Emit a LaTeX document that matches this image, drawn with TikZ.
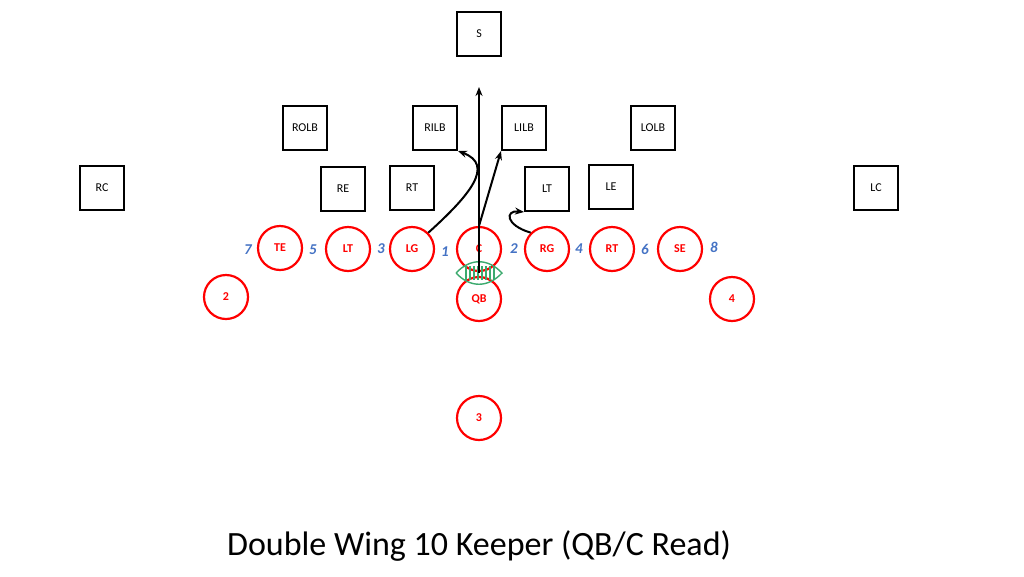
\documentclass[tikz,border=0pt]{standalone}
\usepackage{fontspec}
\setmainfont{Carlito}
\usetikzlibrary{arrows.meta,positioning}
\begin{document}
\begin{tikzpicture}[x=1pt,y=-1pt,
            defbox/.style={rectangle, draw, line width=2pt, minimum size=44pt, font=\fontsize{12}{14}\selectfont},
            player/.style={circle, draw=red, line width=2.2pt, minimum size=44pt, text=red, font=\bfseries\fontsize{12}{14}\selectfont},
            gap/.style={text={rgb,255:red,68;green,114;blue,196}, font=\bfseries\itshape\fontsize{15}{17}\selectfont},
            route/.style={-{Stealth[length=9pt,width=7pt]}, line width=2pt}
        ]
        \useasboundingbox (0,0) rectangle (1024,576);

        % defense
        \node[defbox] (s) at (479,34) {S};
        \node[defbox] (rolb) at (305,128) {ROLB};
        \node[defbox] (rilb) at (435,128) {RILB};
        \node[defbox] (lilb) at (524,128) {LILB};
        \node[defbox] (lolb) at (653,128) {LOLB};
        \node[defbox] (rc) at (102,188) {RC};
        \node[defbox] (re) at (343,189) {RE};
        \node[defbox] (rtd) at (412,188) {RT};
        \node[defbox] (ltd) at (547,189) {LT};
        \node[defbox] (le) at (611,187) {LE};
        \node[defbox] (lc) at (876,188) {LC};

        % offense
        \node[player] (te) at (280,248) {TE};
        \node[player] (lt) at (348,249) {LT};
        \node[player] (lg) at (412,249) {LG};
        \node[player] (c) at (479,249) {C};
        \node[player] (rg) at (547,249) {RG};
        \node[player] (rt) at (612,249) {RT};
        \node[player] (se) at (680,249) {SE};
        \node[player] (two) at (226,297) {2};
        \node[player] (qb) at (479,299) {QB};
        \node[player] (four) at (732,299) {4};
        \node[player] (three) at (479,418) {3};

        % holes
        \node[gap] (h7) at (248,250) {7};
        \node[gap] (h5) at (313,250) {5};
        \node[gap] (h3) at (381,249) {3};
        \node[gap] (h1) at (445,252) {1};
        \node[gap] (h2) at (514,249) {2};
        \node[gap] (h4) at (579,249) {4};
        \node[gap] (h6) at (645,249) {6};
        \node[gap] (h8) at (714,247) {8};

        % football
        \coordinate (ball) at (479,273);
        \draw[draw={rgb,255:red,60;green,170;blue,110}, line width=1.4pt]
            (456,273) .. controls (470,258) and (488,258) .. (502,273)
                      .. controls (488,288) and (470,288) .. (456,273);
        \foreach \lx in {466,470,...,494}
            \draw[draw={rgb,255:red,60;green,170;blue,110}, line width=1.1pt] (\lx,266) -- (\lx,280);

        % routes
        \coordinate (qbend) at (479,87);
        \draw[route] (ball) -- (qbend);
        \draw[route] (lg.north east) .. controls (470,195) and (495,165) .. (rilb.south east);
        \draw[route] (c.north) -- (lilb.south west);
        \draw[route] (rg.north west) .. controls (505,225) and (505,210) .. (ltd.south west);

        \node[font=\fontsize{34}{40}\selectfont] (title) at (479,546) {Double Wing 10 Keeper (QB/C Read)};
    \end{tikzpicture}
\end{document}
